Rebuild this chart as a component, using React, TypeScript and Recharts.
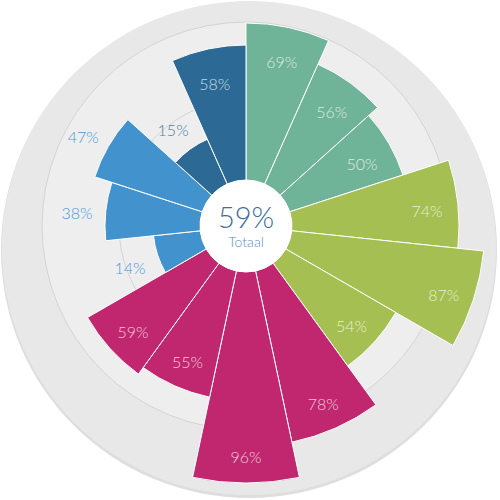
import React from "react"
import { RadialBarChart, RadialBar, PolarAngleAxis, PolarRadiusAxis, PolarGrid, Cell, LabelList } from "recharts"

const categories = ["a1", "a2", "a3", "b1", "b2", "b3", "c1", "c2", "c3", "c4", "d1", "d2", "d3", "e1", "e2"]
const values = [69, 56, 50, 74, 87, 54, 78, 96, 55, 59, 14, 38, 47, 15, 58]
const groups = [0, 0, 0, 1, 1, 1, 2, 2, 2, 2, 3, 3, 3, 4, 4]
const groupColors = ["#6fb398", "#a5bf52", "#c0276e", "#4292cd", "#2c6995"]
const outsideLabelColors = ["#6fb398", "#a5bf52", "#c0276e", "#4c9ad6", "#4f7ea8"]
const totalLabel = "59%"
const totalCaption = "Totaal"

// radius axis floor, so that the bars reach the white centre disc
const FLOOR = -9.5
// bars sweep counter-clockwise from their category angle, so start one band (24deg) short of the top
const START = 90 - 24

const data = categories.map((name, i) => ({ name, value: values[i] }))

const CX = 246
const CY = 226

const renderLabel = (props: any) => {
    const { viewBox, index } = props
    if (!viewBox || viewBox.startAngle === undefined) return null
    const v = values[index]
    const mid = (viewBox.startAngle + viewBox.endAngle) / 2
    const inside = v >= 50
    const r = inside ? viewBox.outerRadius - 31 : viewBox.outerRadius + 29
    const rad = (-mid * Math.PI) / 180
    const x = viewBox.cx + r * Math.cos(rad)
    const y = viewBox.cy + r * Math.sin(rad) + 4
    return (
        <text
            x={x}
            y={y}
            textAnchor="middle"
            dominantBaseline="central"
            fontSize={16}
            fontWeight={300}
            fontFamily="Lato, 'Open Sans', sans-serif"
            fill={inside ? "rgba(255,255,255,0.75)" : outsideLabelColors[groups[index]]}
        >
            {v}%
        </text>
    )
}

export default function App() {
    return (
        <div style={{ position: "absolute", left: 0, top: 0, width: 500, height: 500 }}>
            <svg width={500} height={500} style={{ position: "absolute", left: 0, top: 0 }}>
                <circle cx={249} cy={250} r={248} fill="#dedede" />
                <circle cx={249} cy={248} r={247} fill="#e8e8e8" />
                <circle cx={CX} cy={CY} r={204} fill="#eeeeee" />
            </svg>
            <div style={{ position: "absolute", left: 0, top: 0 }}>
                <RadialBarChart
                    width={500}
                    height={500}
                    data={data}
                    layout="centric"
                    cx={CX}
                    cy={CY}
                    innerRadius={46}
                    outerRadius={265}
                    startAngle={START}
                    endAngle={START - 360}
                    barCategoryGap={0}
                    margin={{ top: 0, right: 0, bottom: 0, left: 0 }}
                >
                    <PolarGrid gridType="circle" radialLines={false} polarRadius={[127, 204]} stroke="#d4d4d4" />
                    <PolarAngleAxis type="category" dataKey="name" tick={false} axisLine={false} tickLine={false} />
                    <PolarRadiusAxis type="number" domain={[FLOOR, 100]} tick={false} axisLine={false} tickLine={false} />
                    <RadialBar
                        dataKey={(d: any) => [FLOOR, d.value]}
                        stroke="#ffffff"
                        strokeWidth={1}
                        isAnimationActive={false}
                    >
                        {data.map((d, i) => (
                            <Cell key={d.name} fill={groupColors[groups[i]]} />
                        ))}
                        <LabelList content={renderLabel} />
                    </RadialBar>
                </RadialBarChart>
            </div>
            <svg width={500} height={500} style={{ position: "absolute", left: 0, top: 0, pointerEvents: "none" }}>
                <circle cx={CX} cy={CY} r={46} fill="#ffffff" />
                <text x={CX} y={228} textAnchor="middle" fontSize={29} fontWeight={300} fontFamily="Lato, 'Open Sans', sans-serif" fill="#3b6d9f">
                    {totalLabel}
                </text>
                <text x={CX} y={247} textAnchor="middle" fontSize={14} fontWeight={300} fontFamily="Lato, 'Open Sans', sans-serif" fill="#5b8fc2">
                    {totalCaption}
                </text>
            </svg>
        </div>
    )
}
